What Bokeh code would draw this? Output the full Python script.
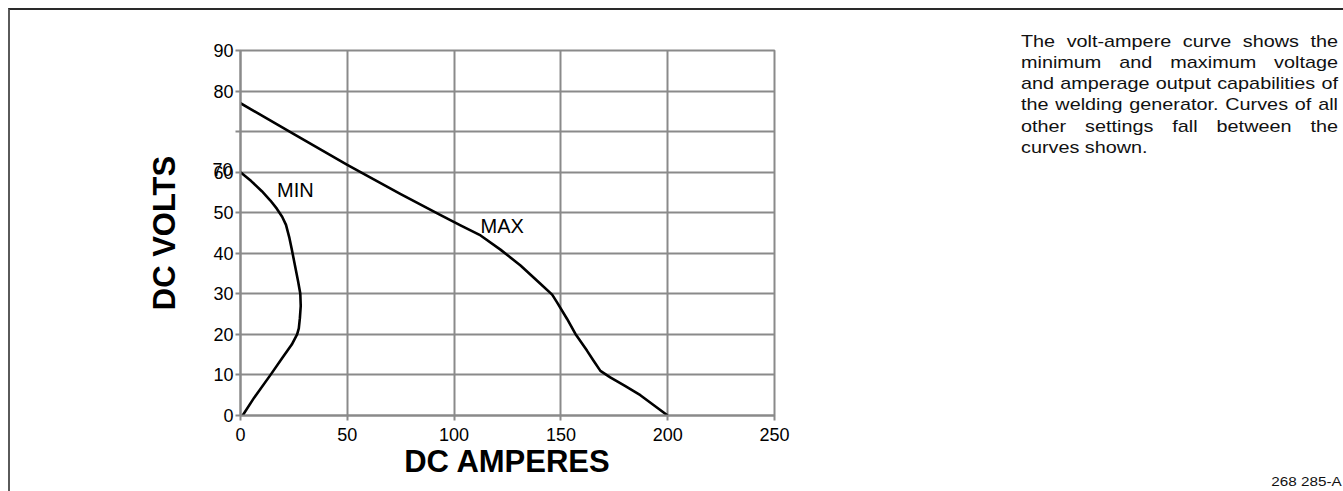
from bokeh.plotting import figure
from bokeh.models import FixedTicker, Div, Range1d
from bokeh.layouts import row
from bokeh.core.properties import value
from bokeh.embed import file_html
from bokeh.resources import INLINE

# ---- data ----
x_ticks = [0, 50, 100, 150, 200, 250]
y_ticks = [0, 10, 20, 30, 40, 50, 60, 70, 80, 90]
y_tick_labels = {70: ""}
extra_tick_text = "70"   # printed over the "60" label, as in the original

max_amps = [0, 25, 50, 75, 93.7, 103.0, 112.4, 121.7, 131.1, 140.4, 145.9, 148.2, 152.9,
            156.8, 162.2, 165.3, 168.5, 173.1, 180, 187.2, 200]
max_volts = [77, 69.4, 61.8, 54.6, 49.4, 46.9, 44.4, 40.9, 37.0, 32.5, 29.8, 27.9, 23.8,
             20.1, 16.0, 13.5, 11.0, 9.4, 7.3, 5.0, 0]

min_amps = [0, 5, 10, 14, 17, 19.5, 21.3, 22.8, 24, 25.5, 27, 28, 28.2, 27.8, 27.3, 26.5,
            24, 19.7, 14.3, 6.4, 1]
min_volts = [60, 57.8, 55.3, 53, 51, 49, 47, 44, 41, 37, 33, 30, 27, 24, 21.5, 20,
             17.5, 14.3, 10.2, 4.4, 0]

curve_names = ["MIN", "MAX"]
curve_name_x = [17.1, 112.4]
curve_name_y = [55.6, 46.8]

x_title = "DC AMPERES"
y_title = "DC VOLTS"
note_lines = [
    "The volt-ampere curve shows the",
    "minimum and maximum voltage",
    "and amperage output capabilities of",
    "the welding generator. Curves of all",
    "other settings fall between the",
    "curves shown.",
]
figure_code = "268 285-A"

FONT = "Liberation Sans"
GRID = "#8a8a8a"

p = figure(width=1011, height=481, output_backend="svg", toolbar_location=None,
           x_range=Range1d(0, 250), y_range=Range1d(0, 90),
           min_border_left=230, min_border_right=247, min_border_top=40, min_border_bottom=76)
p.background_fill_color = "white"
p.border_fill_color = "white"
p.outline_line_color = GRID
p.outline_line_width = 2

for ax in (p.xaxis[0], p.yaxis[0]):
    ax.axis_line_color = GRID
    ax.axis_line_width = 2
    ax.major_tick_line_color = GRID
    ax.major_tick_line_width = 2
    ax.major_tick_in = 0
    ax.major_tick_out = 5
    ax.minor_tick_line_color = None
    ax.major_label_text_font = FONT
    ax.major_label_text_font_size = "18px"
    ax.major_label_text_color = "black"
    ax.axis_label_text_font = FONT
    ax.axis_label_text_font_size = "31px"
    ax.axis_label_text_font_style = "bold"
    ax.axis_label_text_color = "black"

p.xaxis[0].ticker = FixedTicker(ticks=x_ticks)
p.yaxis[0].ticker = FixedTicker(ticks=y_ticks)
p.yaxis[0].major_label_overrides = y_tick_labels
p.yaxis[0].major_label_standoff = 2
p.xaxis[0].major_label_standoff = 7
p.xaxis[0].axis_label = x_title
p.xaxis[0].axis_label_standoff = 0
p.yaxis[0].axis_label = y_title
p.yaxis[0].axis_label_standoff = 28

p.xgrid.ticker = FixedTicker(ticks=x_ticks)
p.ygrid.ticker = FixedTicker(ticks=y_ticks)
for g in (p.xgrid[0], p.ygrid[0]):
    g.grid_line_color = GRID
    g.grid_line_width = 2

p.line(max_amps, max_volts, line_color="black", line_width=2.6, line_join="round")
p.line(min_amps, min_volts, line_color="black", line_width=2.6, line_join="round")

p.text(x=curve_name_x, y=curve_name_y, text=curve_names, text_font=value(FONT),
       text_font_size="20px", text_color="black", text_align="left", text_baseline="middle")

# ---- right-hand note (HTML) ----
line_divs = []
for i, ln in enumerate(note_lines):
    if i < len(note_lines) - 1:
        words = "".join(f"<span>{w}</span>" for w in ln.split(" "))
        line_divs.append(f'<div style="display:flex;justify-content:space-between;height:21.2px;line-height:21.2px;white-space:nowrap;">{words}</div>')
    else:
        line_divs.append(f'<div style="height:21.2px;line-height:21.2px;white-space:nowrap;">{ln}</div>')

html = (
    f'<div style="position:relative;width:322px;height:481px;overflow:visible;font-family:\'{FONT}\',Arial,sans-serif;color:#111;">'
    f'<div style="position:absolute;left:0;top:20.8px;width:272px;font-size:17px;transform:scaleX(1.1654);transform-origin:0 0;">'
    + "".join(line_divs) +
    '</div>'
    f'<div style="position:absolute;right:1.3px;top:466px;font-size:12.5px;line-height:12.5px;white-space:nowrap;transform:scaleX(1.22);transform-origin:100% 0;">{figure_code}</div>'
    f'<div style="position:absolute;left:-900px;width:111.5px;top:150.5px;text-align:right;font-size:18px;line-height:18px;color:black;white-space:nowrap;">{extra_tick_text}</div>'
    '</div>'
)
note = Div(text=html, width=322, height=481, margin=0, styles={"overflow": "visible"})

layout = row(p, note, styles={"border-top": "2px solid #2a2a2a", "border-left": "2px solid #5a5a5a",
                              "margin-top": "8px", "margin-left": "8px"})

open("out.html", "w").write(file_html(layout, INLINE))
